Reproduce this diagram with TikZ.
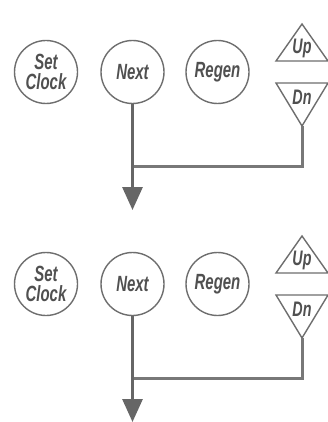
\documentclass[tikz,border=0pt]{standalone}
\usepackage{fontspec}
\setmainfont{Liberation Sans}
\newfontfamily\keyfont{Liberation Sans}[FakeStretch=0.68]
\usetikzlibrary{arrows.meta}
\definecolor{ink}{HTML}{505050}
\definecolor{rim}{HTML}{6E6E6E}
\definecolor{wire}{HTML}{787878}
\tikzset{
  key/.style={circle, draw=rim, line width=1.4pt, minimum size=63pt, inner sep=0pt,
    text=ink, font=\keyfont\bfseries\itshape\fontsize{22}{21}\selectfont, align=center},
  tri/.style={draw=rim, line width=1.4pt, line join=miter},
  trilabel/.style={inner sep=0pt, text=ink, font=\keyfont\bfseries\itshape\fontsize{21}{21}\selectfont},
  wirestyle/.style={draw=wire, line width=3pt},
  arrowstyle/.style={wirestyle, -{Triangle[width=20pt,length=23pt]}, color=wire!85!black}
}
\begin{document}
\begin{tikzpicture}[x=1pt,y=-1pt]
\fill[white] (0,0) rectangle (328,422);
\useasboundingbox (0,0) rectangle (328,422);
\foreach \p/\dy in {a/0,b/212}{
  \node[key] (\p-set) at (46,{72+\dy}) {Set\\[-1pt]Clock};
  \node[key] (\p-next) at (132.5,{72+\dy}) {Next};
  \node[key] (\p-regen) at (217.5,{72+\dy}) {Regen};
  \draw[tri] (302,{24+\dy}) -- (328,{61+\dy}) -- (276,{61+\dy}) -- cycle;
  \draw[tri] (276,{83+\dy}) -- (328,{83+\dy}) -- (302,{126+\dy}) -- cycle;
  \node[trilabel] (\p-up) at (302,{48+\dy}) {Up};
  \node[trilabel] (\p-dn) at (302,{97+\dy}) {Dn};
  \coordinate (\p-dntip) at (302,{126+\dy});
  \coordinate (\p-join) at (132.5,{166+\dy});
  \coordinate (\p-end) at (132.5,{210+\dy});
  \draw[wirestyle] (\p-dntip) |- (\p-join);
  \draw[arrowstyle] (\p-next.south) -- (\p-end);
}
\end{tikzpicture}
\end{document}
